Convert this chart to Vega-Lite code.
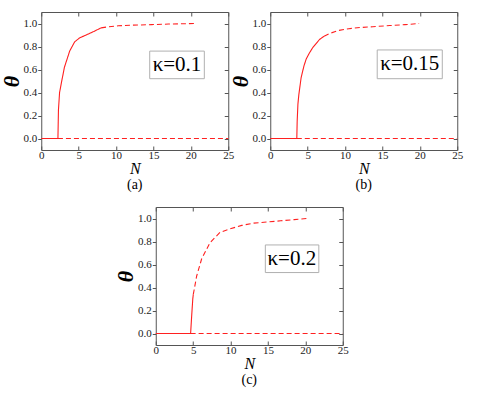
{
  "$schema": "https://vega.github.io/schema/vega-lite/v6.json",
  "padding": {"left": 0, "top": 11, "right": 5, "bottom": 5},
  "background": "white",
  "center": true,
  "spacing": 14,
  "datasets": {
    "curves": [
      {"panel": "a", "seg": "a1", "style": "solid", "N": 0, "theta": 0},
      {"panel": "a", "seg": "a1", "style": "solid", "N": 2.23, "theta": 0},
      {"panel": "a", "seg": "a1", "style": "solid", "N": 2.3, "theta": 0.25},
      {"panel": "a", "seg": "a1", "style": "solid", "N": 2.45, "theta": 0.4},
      {"panel": "a", "seg": "a1", "style": "solid", "N": 2.68, "theta": 0.48},
      {"panel": "a", "seg": "a1", "style": "solid", "N": 3.1, "theta": 0.62},
      {"panel": "a", "seg": "a1", "style": "solid", "N": 3.8, "theta": 0.76},
      {"panel": "a", "seg": "a1", "style": "solid", "N": 4.46, "theta": 0.84},
      {"panel": "a", "seg": "a1", "style": "solid", "N": 5.13, "theta": 0.875},
      {"panel": "a", "seg": "a1", "style": "solid", "N": 6.0, "theta": 0.9},
      {"panel": "a", "seg": "a1", "style": "solid", "N": 7.0, "theta": 0.93},
      {"panel": "a", "seg": "a1", "style": "solid", "N": 8.0, "theta": 0.962},
      {"panel": "a", "seg": "a2", "style": "dashed", "N": 8.0, "theta": 0.962},
      {"panel": "a", "seg": "a2", "style": "dashed", "N": 9.0, "theta": 0.972},
      {"panel": "a", "seg": "a2", "style": "dashed", "N": 10.3, "theta": 0.98},
      {"panel": "a", "seg": "a2", "style": "dashed", "N": 12.0, "theta": 0.985},
      {"panel": "a", "seg": "a2", "style": "dashed", "N": 14.7, "theta": 0.99},
      {"panel": "a", "seg": "a2", "style": "dashed", "N": 17.0, "theta": 0.995},
      {"panel": "a", "seg": "a2", "style": "dashed", "N": 20.5, "theta": 1.0},
      {"panel": "a", "seg": "a3", "style": "dashed", "N": 2.23, "theta": 0},
      {"panel": "a", "seg": "a3", "style": "dashed", "N": 25, "theta": 0},

      {"panel": "b", "seg": "b1", "style": "solid", "N": 0, "theta": 0},
      {"panel": "b", "seg": "b1", "style": "solid", "N": 3.55, "theta": 0},
      {"panel": "b", "seg": "b1", "style": "solid", "N": 3.6, "theta": 0.15},
      {"panel": "b", "seg": "b1", "style": "solid", "N": 3.7, "theta": 0.3},
      {"panel": "b", "seg": "b1", "style": "solid", "N": 3.82, "theta": 0.38},
      {"panel": "b", "seg": "b1", "style": "solid", "N": 4.13, "theta": 0.53},
      {"panel": "b", "seg": "b1", "style": "solid", "N": 4.5, "theta": 0.63},
      {"panel": "b", "seg": "b1", "style": "solid", "N": 4.8, "theta": 0.69},
      {"panel": "b", "seg": "b1", "style": "solid", "N": 5.2, "theta": 0.74},
      {"panel": "b", "seg": "b1", "style": "solid", "N": 5.68, "theta": 0.79},
      {"panel": "b", "seg": "b1", "style": "solid", "N": 6.57, "theta": 0.86},
      {"panel": "b", "seg": "b1", "style": "solid", "N": 7.2, "theta": 0.89},
      {"panel": "b", "seg": "b2", "style": "dashed", "N": 7.2, "theta": 0.89},
      {"panel": "b", "seg": "b2", "style": "dashed", "N": 8.0, "theta": 0.915},
      {"panel": "b", "seg": "b2", "style": "dashed", "N": 9.2, "theta": 0.94},
      {"panel": "b", "seg": "b2", "style": "dashed", "N": 10.5, "theta": 0.955},
      {"panel": "b", "seg": "b2", "style": "dashed", "N": 12.0, "theta": 0.965},
      {"panel": "b", "seg": "b2", "style": "dashed", "N": 13.7, "theta": 0.972},
      {"panel": "b", "seg": "b2", "style": "dashed", "N": 16.0, "theta": 0.982},
      {"panel": "b", "seg": "b2", "style": "dashed", "N": 18.0, "theta": 0.99},
      {"panel": "b", "seg": "b2", "style": "dashed", "N": 19.9, "theta": 1.0},
      {"panel": "b", "seg": "b3", "style": "dashed", "N": 3.55, "theta": 0},
      {"panel": "b", "seg": "b3", "style": "dashed", "N": 25, "theta": 0},

      {"panel": "c", "seg": "c1", "style": "solid", "N": 0, "theta": 0},
      {"panel": "c", "seg": "c1", "style": "solid", "N": 4.66, "theta": 0},
      {"panel": "c", "seg": "c1", "style": "solid", "N": 4.8, "theta": 0.15},
      {"panel": "c", "seg": "c1", "style": "solid", "N": 4.95, "theta": 0.3},
      {"panel": "c", "seg": "c1", "style": "solid", "N": 5.02, "theta": 0.34},
      {"panel": "c", "seg": "c2", "style": "dashed", "N": 5.02, "theta": 0.34},
      {"panel": "c", "seg": "c2", "style": "dashed", "N": 5.47, "theta": 0.5},
      {"panel": "c", "seg": "c2", "style": "dashed", "N": 6.14, "theta": 0.65},
      {"panel": "c", "seg": "c2", "style": "dashed", "N": 7.26, "theta": 0.79},
      {"panel": "c", "seg": "c2", "style": "dashed", "N": 8.6, "theta": 0.88},
      {"panel": "c", "seg": "c2", "style": "dashed", "N": 9.95, "theta": 0.91},
      {"panel": "c", "seg": "c2", "style": "dashed", "N": 11.5, "theta": 0.94},
      {"panel": "c", "seg": "c2", "style": "dashed", "N": 13.1, "theta": 0.96},
      {"panel": "c", "seg": "c2", "style": "dashed", "N": 15.0, "theta": 0.97},
      {"panel": "c", "seg": "c2", "style": "dashed", "N": 16.7, "theta": 0.98},
      {"panel": "c", "seg": "c2", "style": "dashed", "N": 18.5, "theta": 0.99},
      {"panel": "c", "seg": "c2", "style": "dashed", "N": 20.25, "theta": 1.0},
      {"panel": "c", "seg": "c3", "style": "dashed", "N": 4.66, "theta": 0},
      {"panel": "c", "seg": "c3", "style": "dashed", "N": 25, "theta": 0}
    ]
  },
  "vconcat": [
    {
      "spacing": -6,
      "hconcat": [
        {
          "width": 187, "height": 138,
          "title": {"text": "(a)", "orient": "bottom"},
          "resolve": {"axis": {"x": "independent", "y": "independent"}},
          "layer": [
            {
              "data": {"name": "curves"},
              "transform": [{"filter": "datum.panel === 'a'"}],
              "mark": {"type": "line", "color": "#ff2020", "strokeWidth": 1.1},
              "encoding": {
                "x": {"field": "N", "type": "quantitative", "scale": {"domain": [0, 25], "nice": false}, "axis": {"orient": "bottom", "title": "N"}},
                "y": {"field": "theta", "type": "quantitative", "scale": {"domain": [-0.1, 1.1], "nice": false, "zero": false}, "axis": {"orient": "left", "title": "θ"}},
                "detail": {"field": "seg"},
                "strokeDash": {"field": "style", "type": "nominal", "scale": {"domain": ["solid", "dashed"], "range": [[1, 0], [5, 3]]}, "legend": null},
                "order": {"field": "N", "type": "quantitative"}
              }
            },
            {
              "data": {"values": [{"label": "κ=0.1"}]},
              "mark": {"type": "rect", "fill": "white", "stroke": "#b0b0b0", "strokeWidth": 1},
              "encoding": {
                "x": {"datum": 14.5, "type": "quantitative", "axis": {"orient": "top", "labels": false, "title": null}},
                "x2": {"datum": 21.8},
                "y": {"datum": 0.52, "type": "quantitative", "axis": {"orient": "right", "labels": false, "title": null, "tickSize": {"condition": {"test": "round(datum.value * 10) % 2 === 0", "value": -4}, "value": -2.5}}},
                "y2": {"datum": 0.76}
              }
            },
            {
              "data": {"values": [{"label": "κ=0.1"}]},
              "mark": {"type": "text", "fontSize": 21, "font": "Liberation Serif", "color": "black"},
              "encoding": {
                "x": {"datum": 18.15, "type": "quantitative", "axis": null},
                "y": {"datum": 0.64, "type": "quantitative", "axis": null},
                "text": {"field": "label"}
              }
            }
          ]
        },
        {
          "width": 187, "height": 138,
          "title": {"text": "(b)", "orient": "bottom"},
          "resolve": {"axis": {"x": "independent", "y": "independent"}},
          "layer": [
            {
              "data": {"name": "curves"},
              "transform": [{"filter": "datum.panel === 'b'"}],
              "mark": {"type": "line", "color": "#ff2020", "strokeWidth": 1.1},
              "encoding": {
                "x": {"field": "N", "type": "quantitative", "scale": {"domain": [0, 25], "nice": false}, "axis": {"orient": "bottom", "title": "N"}},
                "y": {"field": "theta", "type": "quantitative", "scale": {"domain": [-0.1, 1.1], "nice": false, "zero": false}, "axis": {"orient": "left", "title": "θ"}},
                "detail": {"field": "seg"},
                "strokeDash": {"field": "style", "type": "nominal", "scale": {"domain": ["solid", "dashed"], "range": [[1, 0], [5, 3]]}, "legend": null},
                "order": {"field": "N", "type": "quantitative"}
              }
            },
            {
              "data": {"values": [{"label": "κ=0.15"}]},
              "mark": {"type": "rect", "fill": "white", "stroke": "#b0b0b0", "strokeWidth": 1},
              "encoding": {
                "x": {"datum": 14.3, "type": "quantitative", "axis": {"orient": "top", "labels": false, "title": null}},
                "x2": {"datum": 23.0},
                "y": {"datum": 0.52, "type": "quantitative", "axis": {"orient": "right", "labels": false, "title": null, "tickSize": {"condition": {"test": "round(datum.value * 10) % 2 === 0", "value": -4}, "value": -2.5}}},
                "y2": {"datum": 0.77}
              }
            },
            {
              "data": {"values": [{"label": "κ=0.15"}]},
              "mark": {"type": "text", "fontSize": 21, "font": "Liberation Serif", "color": "black"},
              "encoding": {
                "x": {"datum": 18.65, "type": "quantitative", "axis": null},
                "y": {"datum": 0.645, "type": "quantitative", "axis": null},
                "text": {"field": "label"}
              }
            }
          ]
        }
      ]
    },
    {
      "width": 187, "height": 138,
      "title": {"text": "(c)", "orient": "bottom"},
      "resolve": {"axis": {"x": "independent", "y": "independent"}},
      "layer": [
        {
          "data": {"name": "curves"},
          "transform": [{"filter": "datum.panel === 'c'"}],
          "mark": {"type": "line", "color": "#ff2020", "strokeWidth": 1.1},
          "encoding": {
            "x": {"field": "N", "type": "quantitative", "scale": {"domain": [0, 25], "nice": false}, "axis": {"orient": "bottom", "title": "N"}},
            "y": {"field": "theta", "type": "quantitative", "scale": {"domain": [-0.1, 1.1], "nice": false, "zero": false}, "axis": {"orient": "left", "title": "θ"}},
            "detail": {"field": "seg"},
            "strokeDash": {"field": "style", "type": "nominal", "scale": {"domain": ["solid", "dashed"], "range": [[1, 0], [5, 3]]}, "legend": null},
            "order": {"field": "N", "type": "quantitative"}
          }
        },
        {
          "data": {"values": [{"label": "κ=0.2"}]},
          "mark": {"type": "rect", "fill": "white", "stroke": "#b0b0b0", "strokeWidth": 1},
          "encoding": {
            "x": {"datum": 14.65, "type": "quantitative", "axis": {"orient": "top", "labels": false, "title": null}},
            "x2": {"datum": 21.8},
            "y": {"datum": 0.53, "type": "quantitative", "axis": {"orient": "right", "labels": false, "title": null, "tickSize": {"condition": {"test": "round(datum.value * 10) % 2 === 0", "value": -4}, "value": -2.5}}},
            "y2": {"datum": 0.77}
          }
        },
        {
          "data": {"values": [{"label": "κ=0.2"}]},
          "mark": {"type": "text", "fontSize": 21, "font": "Liberation Serif", "color": "black"},
          "encoding": {
            "x": {"datum": 18.2, "type": "quantitative", "axis": null},
            "y": {"datum": 0.65, "type": "quantitative", "axis": null},
            "text": {"field": "label"}
          }
        }
      ]
    }
  ],
  "config": {
    "font": "Liberation Serif",
    "view": {"stroke": null},
    "title": {"font": "Liberation Serif", "fontSize": 14, "fontWeight": "normal", "color": "black", "offset": 2},
    "axis": {
      "grid": false,
      "domainColor": "#555",
      "tickColor": "#555",
      "labelColor": "#222",
      "labelFont": "Liberation Serif",
      "labelFontSize": 11,
      "titleFont": "Liberation Serif",
      "titleFontStyle": "italic",
      "titleFontWeight": "normal",
      "titleColor": "black",
      "tickSize": -4,
      "labelPadding": 3
    },
    "axisX": {
      "values": [0, 2.5, 5, 7.5, 10, 12.5, 15, 17.5, 20, 22.5, 25],
      "labelExpr": "datum.value % 5 === 0 ? format(datum.value, 'd') : ''",
      "tickSize": {"condition": {"test": "datum.value % 5 === 0", "value": -4}, "value": -2.5},
      "titleFontSize": 16,
      "titlePadding": 0,
      "labelFlush": false
    },
    "axisY": {
      "values": [0, 0.1, 0.2, 0.3, 0.4, 0.5, 0.6, 0.7, 0.8, 0.9, 1.0],
      "labelExpr": "round(datum.value * 10) % 2 === 0 ? format(datum.value, '.1f') : ''",
      "tickSize": {"condition": {"test": "round(datum.value * 10) % 2 === 0", "value": 3.5}, "value": 2.5},
      "labelPadding": 1,
      "titleFontSize": 22,
      "titleFontWeight": "bold",
      "titlePadding": 0,
      "labelFlush": false
    }
  }
}
